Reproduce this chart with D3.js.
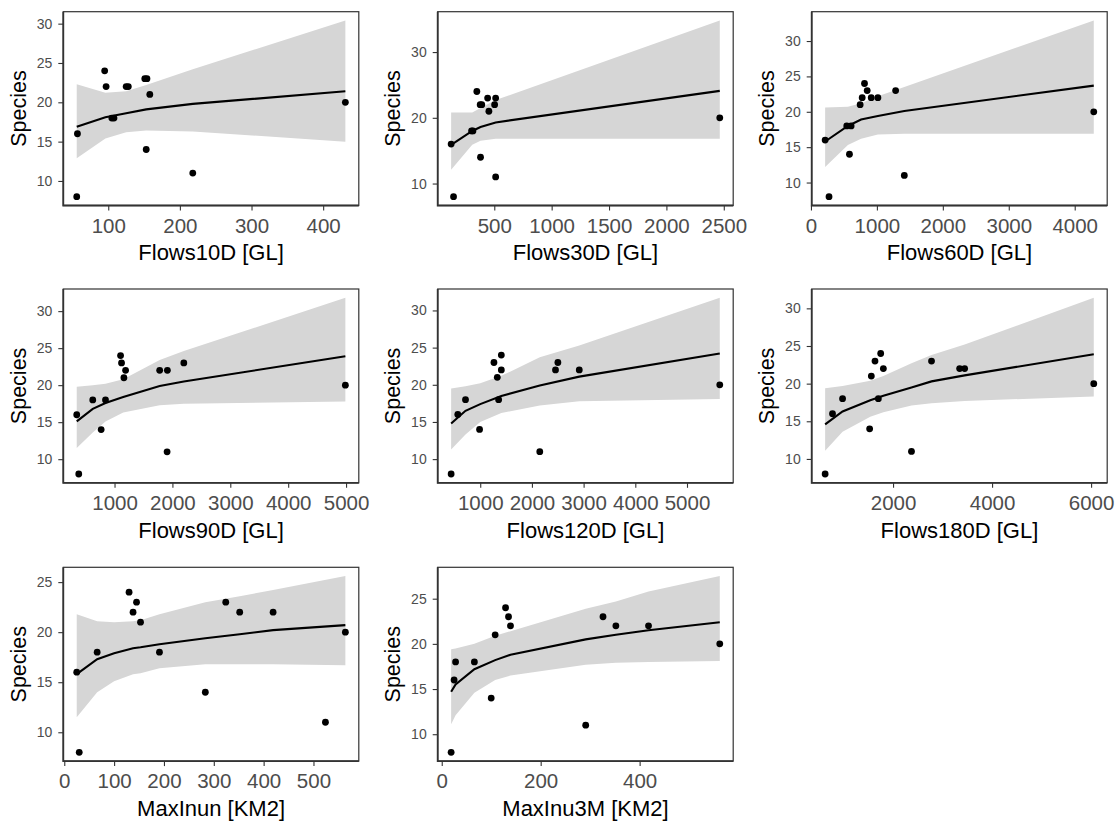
<!DOCTYPE html>
<html><head><meta charset="utf-8">
<script src="https://cdn.jsdelivr.net/npm/d3@7"></script>
<style>
body{margin:0;background:#fff}
svg{display:block}
text{font-family:"Liberation Sans",Arial,Helvetica,sans-serif}
</style>
</head><body>
<svg id="chart" width="1117" height="823"></svg>
<script>
// ---------- data ----------
const yTitle = "Species";
const xTitles = ["Flows10D [GL]","Flows30D [GL]","Flows60D [GL]","Flows90D [GL]","Flows120D [GL]","Flows180D [GL]","MaxInun [KM2]","MaxInu3M [KM2]"];

// Panel 1: Flows10D
const p1X = [56,57,95,97,105,108,125,128,151,154,158,153,218,431];
const p1Y = [8,16,24,22,18,18,22,22,23,23,21,14,11,20];
const p1FitX = [56,96,125,153,218,431];
const p1Fit  = [16.9,18.1,18.6,19.1,19.8,21.4];
const p1Lo   = [12.9,15.4,16.2,16.4,16.3,15.0];
const p1Hi   = [22.3,21.2,21.4,22.2,24.2,30.4];
const p1XTicks = [100,200,300,400];
const p1YTicks = [10,15,20,25,30];

// Panel 2: Flows30D
const p2X = [124,145,302,314,348,377,391,380,442,453,503,512,512,2465];
const p2Y = [16,8,18,18,24,22,22,14,23,21,22,23,11,20];
const p2FitX = [124,308,380,512,2465];
const p2Fit  = [15.9,18.0,18.6,19.3,24.1];
const p2Lo   = [12.1,15.9,16.5,16.8,16.8];
const p2Hi   = [20.8,20.8,21.5,22.7,34.8];
const p2XTicks = [500,1000,1500,2000,2500];
const p2YTicks = [10,20,30];

// Panel 3: Flows60D
const p3X = [215,274,543,609,584,746,777,812,853,914,1015,1284,1416,4289];
const p3Y = [16,8,18,18,14,21,22,24,23,22,22,23,11,20];
const p3FitX = [215,560,760,1015,1416,4289];
const p3Fit  = [15.8,18.0,18.9,19.4,20.1,23.7];
const p3Lo   = [12.2,15.3,16.2,16.8,16.9,16.9];
const p3Hi   = [20.6,20.7,21.2,22.2,23.5,32.9];
const p3XTicks = [0,1000,2000,3000,4000];
const p3YTicks = [10,15,20,25,30];

// Panel 4: Flows90D
const p4X = [347,382,624,769,844,1104,1121,1162,1191,1780,1913,1908,2197,4988];
const p4Y = [16,8,18,14,18,24,23,21,22,22,22,11,23,20];
const p4FitX = [347,624,844,1150,1780,2197,4988];
const p4Fit  = [15.1,16.8,17.6,18.4,19.9,20.5,23.9];
const p4Lo   = [11.5,13.6,15.1,16.3,17.3,17.5,17.8];
const p4Hi   = [19.8,20.0,20.2,20.8,23.4,24.6,31.8];
const p4XTicks = [1000,2000,3000,4000,5000];
const p4YTicks = [10,15,20,25,30];

// Panel 5: Flows120D
const p5X = [437,566,715,987,1265,1330,1356,1408,1408,2152,2456,2502,2916,5634];
const p5Y = [8,16,18,14,23,21,18,24,22,11,22,23,22,20];
const p5FitX = [437,715,1000,1408,2152,2916,5634];
const p5Fit  = [14.8,16.5,17.4,18.5,19.9,21.1,24.2];
const p5Lo   = [11.3,13.3,15.0,16.2,17.2,17.8,18.1];
const p5Hi   = [19.5,19.8,20.2,21.2,23.7,25.3,31.7];
const p5XTicks = [1000,2000,3000,4000,5000];
const p5YTicks = [10,15,20,25,30];

// Panel 6: Flows180D
const p6X = [628,777,980,1527,1561,1635,1703,1750,1804,2372,2777,3345,3446,6054];
const p6Y = [8,16,18,14,21,23,18,24,22,11,23,22,22,20];
const p6FitX = [628,980,1540,1804,2372,2777,3446,6054];
const p6Fit  = [14.6,16.3,17.8,18.4,19.5,20.3,21.1,23.9];
const p6Lo   = [11.1,13.6,15.6,16.2,17.1,17.4,17.7,18.3];
const p6Hi   = [19.4,19.7,20.4,21.0,22.7,23.8,25.2,31.4];
const p6XTicks = [2000,4000,6000];
const p6YTicks = [10,15,20,25,30];

// Panel 7: MaxInun
const p7X = [25,30,66,130,138,145,153,191,283,324,352,419,524,564];
const p7Y = [16,8,18,24,22,23,21,18,14,23,22,22,11,20];
const p7FitX = [25,66,100,138,153,191,283,352,419,564];
const p7Fit  = [15.8,17.3,17.9,18.4,18.5,18.8,19.4,19.8,20.2,20.7];
const p7Lo   = [11.5,14.0,15.1,15.8,15.9,16.4,16.8,16.8,16.8,16.7];
const p7Hi   = [21.8,21.1,21.0,21.1,21.2,21.8,23.0,23.6,24.2,25.6];
const p7XTicks = [0,100,200,300,400,500];
const p7YTicks = [10,15,20,25];

// Panel 8: MaxInu3M
const p8X = [19,25,28,66,100,108,129,135,139,291,326,352,418,562];
const p8Y = [8,16,18,18,14,21,24,23,22,11,23,22,22,20];
const p8FitX = [19,28,66,108,139,291,352,418,562];
const p8Fit  = [14.7,15.5,17.2,18.2,18.8,20.5,21.0,21.5,22.4];
const p8Lo   = [11.1,12.1,14.6,16.0,16.5,17.7,17.9,18.0,18.1];
const p8Hi   = [19.4,19.5,20.0,20.9,21.4,23.9,24.7,25.8,27.5];
const p8XTicks = [0,200,400];
const p8YTicks = [10,15,20,25];

// ---------- assemble ----------
const panels = [
  [p1X,p1Y,p1FitX,p1Fit,p1Lo,p1Hi,p1XTicks,p1YTicks],
  [p2X,p2Y,p2FitX,p2Fit,p2Lo,p2Hi,p2XTicks,p2YTicks],
  [p3X,p3Y,p3FitX,p3Fit,p3Lo,p3Hi,p3XTicks,p3YTicks],
  [p4X,p4Y,p4FitX,p4Fit,p4Lo,p4Hi,p4XTicks,p4YTicks],
  [p5X,p5Y,p5FitX,p5Fit,p5Lo,p5Hi,p5XTicks,p5YTicks],
  [p6X,p6Y,p6FitX,p6Fit,p6Lo,p6Hi,p6XTicks,p6YTicks],
  [p7X,p7Y,p7FitX,p7Fit,p7Lo,p7Hi,p7XTicks,p7YTicks],
  [p8X,p8Y,p8FitX,p8Fit,p8Lo,p8Hi,p8XTicks,p8YTicks]
].map((a,i)=>({xs:a[0],ys:a[1],fx:a[2],fit:a[3],lo:a[4],hi:a[5],xt:a[6],yt:a[7],title:xTitles[i]}));

// ---------- layout ----------
const colLeft = [63.3, 437.7, 811.7];
const rowTop  = [11.7, 289, 567.3];
const PW = 295.5, PH = 193.8;
const TICK_COL = "#333333", LABEL_COL = "#4d4d4d";

const svg = d3.select("#chart");
svg.append("rect").attr("width",1117).attr("height",823).attr("fill","#fff");

function expand(lo, hi){ const r = hi - lo; return [lo - 0.05*r, hi + 0.05*r]; }

panels.forEach((p,i)=>{
  const r = Math.floor(i/3), c = i%3;
  const g = svg.append("g").attr("transform",`translate(${colLeft[c]},${rowTop[r]})`);

  const xDom = expand(d3.min(p.xs.concat(p.fx)), d3.max(p.xs.concat(p.fx)));
  const yDom = expand(d3.min(p.ys.concat(p.lo)), d3.max(p.ys.concat(p.hi)));
  const x = d3.scaleLinear().domain(xDom).range([0,PW]);
  const y = d3.scaleLinear().domain(yDom).range([PH,0]);

  const band = p.fx.map((v,k)=>({x:v, fit:p.fit[k], lo:p.lo[k], hi:p.hi[k]}));

  // confidence band
  g.append("path").datum(band)
    .attr("d", d3.area().x(d=>x(d.x)).y0(d=>y(d.lo)).y1(d=>y(d.hi)))
    .attr("fill","#d6d6d6");

  // points
  g.selectAll("circle").data(p.xs.map((v,k)=>({x:v,y:p.ys[k]}))).join("circle")
    .attr("cx",d=>x(d.x)).attr("cy",d=>y(d.y)).attr("r",3.4).attr("fill","#000");

  // fitted line
  g.append("path").datum(band)
    .attr("d", d3.line().x(d=>x(d.x)).y(d=>y(d.fit)))
    .attr("fill","none").attr("stroke","#000").attr("stroke-width",2.1);

  // y axis
  const ya = g.append("g").call(d3.axisLeft(y).tickValues(p.yt).tickSize(5).tickPadding(6).tickFormat(d3.format("d")));
  ya.select(".domain").remove();
  ya.selectAll(".tick line").attr("stroke",TICK_COL).attr("stroke-width",1.1);
  ya.selectAll(".tick text").attr("fill",LABEL_COL).style("font-size","14px").attr("font-family",null);

  // x axis
  const xa = g.append("g").attr("transform",`translate(0,${PH})`)
    .call(d3.axisBottom(x).tickValues(p.xt).tickSize(5).tickPadding(7.5).tickFormat(d3.format("d")));
  xa.select(".domain").remove();
  xa.selectAll(".tick line").attr("stroke",TICK_COL).attr("stroke-width",1.1);
  xa.selectAll(".tick text").attr("fill",LABEL_COL).style("font-size","20.5px").attr("font-family",null);

  // panel border
  g.append("rect").attr("x",0).attr("y",0).attr("width",PW).attr("height",PH)
    .attr("fill","none").attr("stroke",TICK_COL).attr("stroke-width",1.2);
  g.append("path").attr("d",`M0,0V${PH}H${PW}`).attr("fill","none")
    .attr("stroke",TICK_COL).attr("stroke-width",1.8);

  // titles
  g.append("text").attr("x",PW/2).attr("y",PH+55).attr("text-anchor","middle")
    .attr("fill","#000").style("font-size","22px").text(p.title);
  g.append("text").attr("transform",`translate(-37.5,${PH/2}) rotate(-90)`)
    .attr("text-anchor","middle").attr("fill","#000").style("font-size","21.5px").text(yTitle);
});
</script>
</body></html>
